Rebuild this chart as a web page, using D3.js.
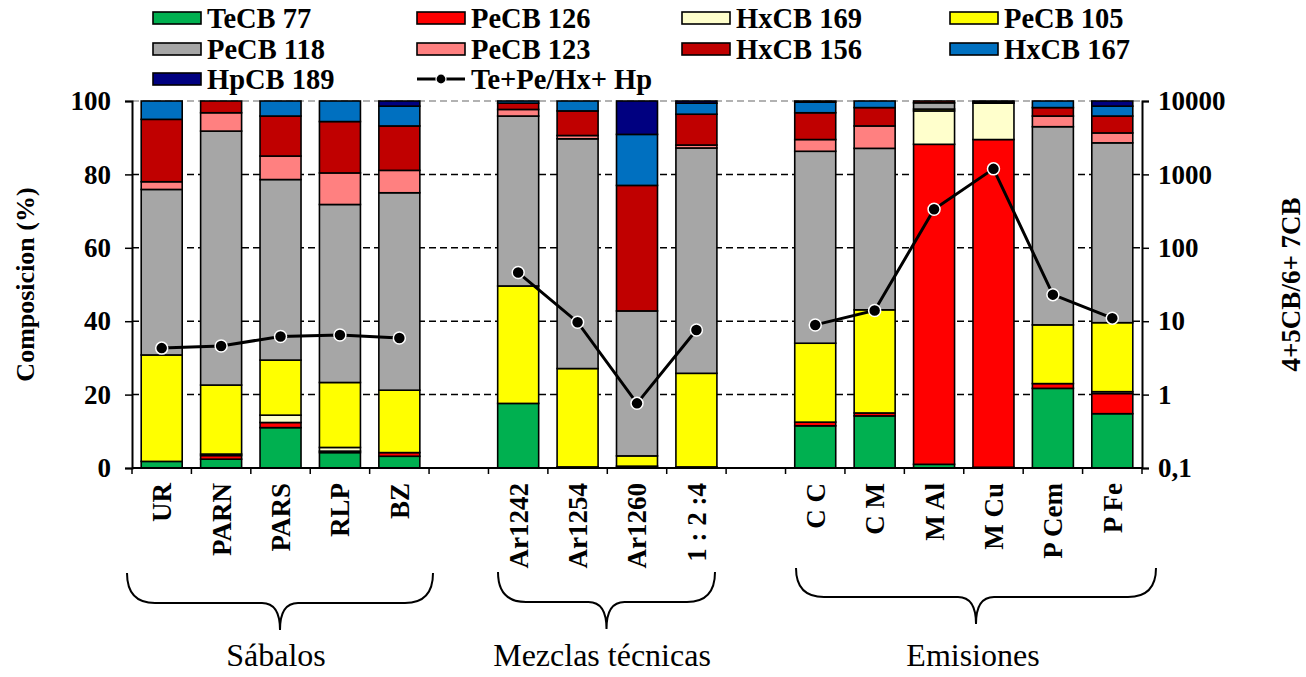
<!DOCTYPE html>
<html>
<head>
<meta charset="utf-8">
<script src="https://cdn.jsdelivr.net/npm/d3@7"></script>
<style>
  body { margin: 0; background: #fff; }
  svg { display: block; font-family: "Liberation Serif", "Times New Roman", serif; }
</style>
</head>
<body>
<div id="chart"></div>
<script>
// categories and groups
const categories = ["UR", "PARN", "PARS", "RLP", "BZ",
  "Ar1242", "Ar1254", "Ar1260", "1 : 2 :4",
  "C C", "C M", "M Al", "M Cu", "P Cem", "P Fe"];
const groupNames = ["Sábalos", "Mezclas técnicas", "Emisiones"];
const groupOf = [0, 0, 0, 0, 0, 1, 1, 1, 1, 2, 2, 2, 2, 2, 2];

// composition (%) per congener, stacked bottom to top
const teCB77  = [1.8, 2.4, 11.0, 4.2, 3.2, 17.6, 0.3, 0.5, 0.3, 11.5, 14.2, 1.0, 0.2, 21.7, 14.8];
const peCB126 = [0, 1.0, 1.4, 0.4, 1.0, 0, 0, 0, 0, 1.0, 0.8, 87.2, 89.3, 1.3, 5.5];
const hxCB169 = [0, 0.4, 2.0, 1.0, 0, 0, 0, 0, 0, 0, 0, 9.1, 9.9, 0, 0.5];
const peCB105 = [29.0, 18.8, 15.0, 17.7, 17.0, 32.0, 26.8, 2.8, 25.5, 21.5, 28.1, 0.5, 0, 16.0, 18.8];
const peCB118 = [45.1, 69.2, 49.2, 48.5, 53.8, 46.3, 62.6, 39.5, 61.4, 52.3, 44.0, 1.7, 0.3, 54.0, 49.0];
const peCB123 = [2.1, 5.0, 6.4, 8.6, 6.1, 1.8, 0.9, 0, 0.8, 3.2, 6.1, 0, 0, 2.9, 2.7];
const hxCB156 = [17.0, 3.2, 10.9, 14.0, 12.1, 1.7, 6.7, 34.2, 8.4, 7.3, 5.0, 0.5, 0.3, 2.3, 4.6];
const hxCB167 = [5.0, 0, 4.1, 5.6, 5.4, 0.6, 2.7, 13.9, 3.0, 2.9, 1.8, 0, 0, 1.8, 2.7];
const hpCB189 = [0, 0, 0, 0, 1.4, 0, 0, 9.1, 0.6, 0.3, 0, 0, 0, 0, 1.4];

// Te+Pe/Hx+Hp ratio (right log axis)
const ratio = [4.3, 4.6, 6.2, 6.5, 5.9, 46, 9.7, 0.76, 7.6, 8.9, 14, 335, 1190, 23, 11];

const seriesNames = ["TeCB 77", "PeCB 126", "HxCB 169", "PeCB 105", "PeCB 118",
  "PeCB 123", "HxCB 156", "HxCB 167", "HpCB 189"];
const seriesValues = [teCB77, peCB126, hxCB169, peCB105, peCB118, peCB123, hxCB156, hxCB167, hpCB189];
const seriesColors = ["#00B050", "#FF0000", "#FFFFCC", "#FFFF00", "#A6A6A6",
  "#FF8080", "#C00000", "#0070C0", "#000080"];
const leftTicks = [0, 20, 40, 60, 80, 100];
const rightTicks = [0.1, 1, 10, 100, 1000, 10000];

const W = 1306, H = 677;
const plotL = 132, plotR = 1142, plotT = 101, plotB = 468;

const svg = d3.select("#chart").append("svg").attr("width", W).attr("height", H);
svg.append("rect").attr("width", W).attr("height", H).attr("fill", "#fff");

// slots: categories plus one empty slot between groups
const slots = [];
categories.forEach((c, i) => {
  if (i > 0 && groupOf[i] !== groupOf[i - 1]) slots.push("gap" + groupOf[i]);
  slots.push(c);
});

const x = d3.scaleBand().domain(slots).range([plotL, plotR]).padding(0);
const y = d3.scaleLinear().domain([0, 100]).range([plotB, plotT]);
const y2 = d3.scaleLog().domain([0.1, 10000]).range([plotB, plotT]);
const barW = x.bandwidth() * 0.69;

// gridlines
svg.append("g").selectAll("line")
  .data(leftTicks.filter(d => d > 0))
  .join("line")
  .attr("x1", plotL).attr("x2", plotR)
  .attr("y1", d => y(d)).attr("y2", d => y(d))
  .attr("stroke", d => d === 100 ? "#999" : "#000")
  .attr("stroke-width", 1.5)
  .attr("stroke-dasharray", "7,4");

// stacked bars
const rows = categories.map((c, i) => {
  const r = {cat: c};
  seriesNames.forEach((s, j) => r[s] = seriesValues[j][i]);
  return r;
});
const stacked = d3.stack().keys(seriesNames)(rows);

svg.append("g").selectAll("g")
  .data(stacked)
  .join("g")
  .attr("fill", (d, i) => seriesColors[i])
  .selectAll("rect")
  .data(d => d.filter(p => p[1] - p[0] > 0))
  .join("rect")
  .attr("x", d => x(d.data.cat) + (x.bandwidth() - barW) / 2)
  .attr("width", barW)
  .attr("y", d => y(d[1]))
  .attr("height", d => y(d[0]) - y(d[1]))
  .attr("stroke", "#000")
  .attr("stroke-width", 1.6);

// ratio line, one piece per group
const line = d3.line()
  .x(d => x(d.cat) + x.bandwidth() / 2)
  .y(d => y2(d.v));
const pts = categories.map((c, i) => ({cat: c, v: ratio[i], g: groupOf[i]}));
groupNames.forEach((g, gi) => {
  svg.append("path")
    .datum(pts.filter(p => p.g === gi))
    .attr("d", line)
    .attr("fill", "none")
    .attr("stroke", "#000")
    .attr("stroke-width", 3);
});
svg.append("g").selectAll("circle")
  .data(pts)
  .join("circle")
  .attr("cx", d => x(d.cat) + x.bandwidth() / 2)
  .attr("cy", d => y2(d.v))
  .attr("r", 6)
  .attr("fill", "#000")
  .attr("stroke", "#fff")
  .attr("stroke-width", 1.5);

// axes
const leftAxis = svg.append("g")
  .attr("transform", `translate(${plotL},0)`)
  .call(d3.axisLeft(y).tickValues(leftTicks).tickSize(7).tickPadding(14));
const rightAxis = svg.append("g")
  .attr("transform", `translate(${plotR},0)`)
  .call(d3.axisRight(y2).tickValues(rightTicks).tickSize(7).tickPadding(9)
    .tickFormat(d => d < 1 ? "0,1" : d3.format("d")(d)));
[leftAxis, rightAxis].forEach(a => {
  a.selectAll("path").attr("stroke", "#000").attr("stroke-width", 2);
  a.selectAll("line").attr("stroke", "#000").attr("stroke-width", 1.5);
  a.selectAll("text")
    .attr("font-family", "Liberation Serif")
    .attr("font-weight", "bold")
    .attr("font-size", 27)
    .attr("fill", "#000");
});

// x axis with ticks at slot boundaries
svg.append("line")
  .attr("x1", plotL).attr("x2", plotR)
  .attr("y1", plotB).attr("y2", plotB)
  .attr("stroke", "#000").attr("stroke-width", 2);
svg.append("g").selectAll("line")
  .data(d3.range(slots.length + 1))
  .join("line")
  .attr("x1", i => plotL + i * x.step()).attr("x2", i => plotL + i * x.step())
  .attr("y1", plotB).attr("y2", plotB + 6)
  .attr("stroke", "#000").attr("stroke-width", 1.5);

svg.append("g").selectAll("text")
  .data(categories)
  .join("text")
  .attr("transform", d => `translate(${x(d) + x.bandwidth() / 2},483) rotate(-90)`)
  .attr("text-anchor", "end")
  .attr("dy", "0.35em")
  .attr("font-weight", "bold")
  .attr("font-size", 27)
  .text(d => d);

// axis titles
svg.append("text")
  .attr("transform", `translate(25,${(plotT + plotB) / 2}) rotate(-90)`)
  .attr("text-anchor", "middle")
  .attr("dy", "0.35em")
  .attr("font-weight", "bold")
  .attr("font-size", 26)
  .text("Composicion (%)");
svg.append("text")
  .attr("transform", `translate(1291,${(plotT + plotB) / 2}) rotate(-90)`)
  .attr("text-anchor", "middle")
  .attr("dy", "0.35em")
  .attr("font-weight", "bold")
  .attr("font-size", 27)
  .text("4+5CB/6+ 7CB");

// group braces and labels
const braces = [
  {x0: 127, x1: 433, top: 573, mid: 603, tip: 630, lx: 276},
  {x0: 498, x1: 715, top: 572, mid: 602, tip: 629, lx: 602},
  {x0: 796, x1: 1156, top: 568, mid: 597, tip: 624, lx: 973}
];
braces.forEach((b, i) => {
  const c = (b.x0 + b.x1) / 2, re = 28, rm = 18;
  const p = `M${b.x0},${b.top} Q${b.x0},${b.mid} ${b.x0 + re},${b.mid} L${c - rm},${b.mid} ` +
    `Q${c},${b.mid} ${c},${b.tip} Q${c},${b.mid} ${c + rm},${b.mid} L${b.x1 - re},${b.mid} ` +
    `Q${b.x1},${b.mid} ${b.x1},${b.top}`;
  svg.append("path").attr("d", p).attr("fill", "none").attr("stroke", "#000").attr("stroke-width", 2);
  svg.append("text")
    .attr("x", b.lx).attr("y", 666)
    .attr("text-anchor", "middle")
    .attr("font-size", 32)
    .text(groupNames[i]);
});

// legend
const colX = [153, 417, 682, 950];
const rowY = [18, 49, 79];
const legendItems = seriesNames.map((s, i) => ({name: s, color: seriesColors[i]}));
legendItems.push({name: "Te+Pe/Hx+ Hp", line: true});
const lg = svg.append("g");
legendItems.forEach((d, i) => {
  const lx = colX[i % 4], ly = rowY[Math.floor(i / 4)];
  if (d.line) {
    lg.append("line").attr("x1", lx).attr("x2", lx + 48).attr("y1", ly).attr("y2", ly)
      .attr("stroke", "#000").attr("stroke-width", 3);
    lg.append("circle").attr("cx", lx + 24).attr("cy", ly).attr("r", 5)
      .attr("fill", "#000").attr("stroke", "#fff").attr("stroke-width", 1.2);
  } else {
    lg.append("rect").attr("x", lx).attr("y", ly - 6).attr("width", 48).attr("height", 12)
      .attr("fill", d.color).attr("stroke", "#000").attr("stroke-width", 1.6);
  }
  lg.append("text")
    .attr("x", lx + 54).attr("y", ly)
    .attr("dy", "0.35em")
    .attr("font-weight", "bold")
    .attr("font-size", 28.5)
    .text(d.name);
});
</script>
</body>
</html>
